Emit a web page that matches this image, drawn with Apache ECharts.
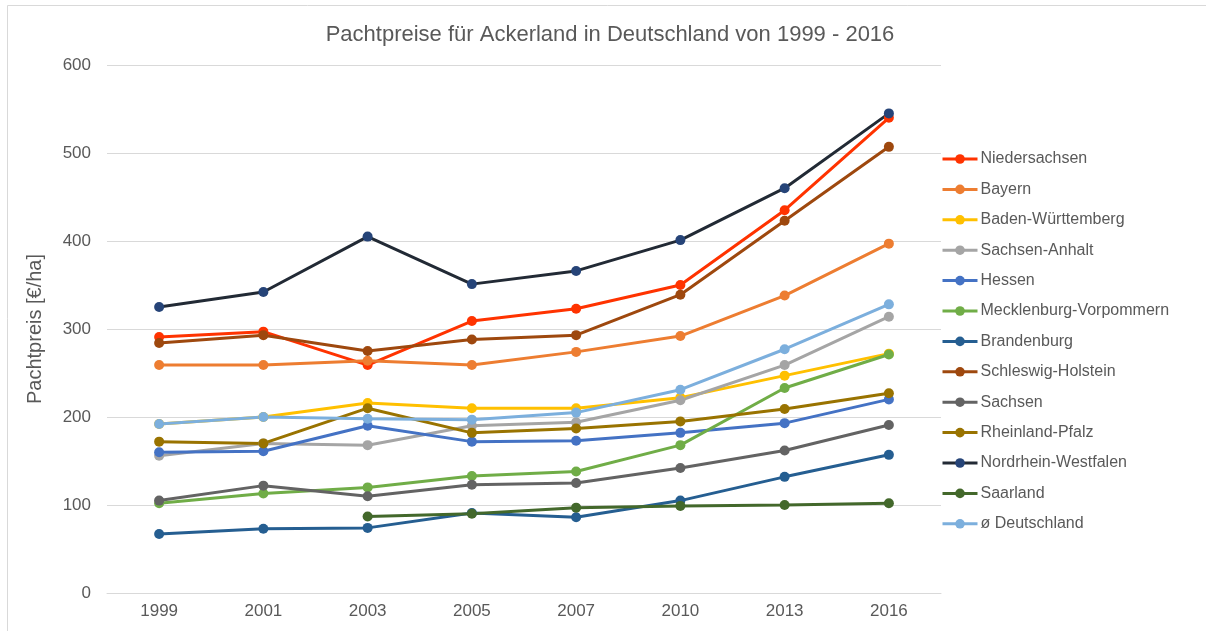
<!DOCTYPE html>
<html>
<head>
<meta charset="utf-8">
<script src="https://cdn.jsdelivr.net/npm/echarts@6/dist/echarts.min.js"></script>
<style>
  html, body { margin: 0; padding: 0; background: #fff; }
  #chart { width: 1206px; height: 631px; }
</style>
</head>
<body>
<div id="chart"></div>
<script>
var years = ['1999', '2001', '2003', '2005', '2007', '2010', '2013', '2016'];

var niedersachsen = [291, 297, 259, 309, 323, 350, 435, 540];
var bayern = [259, 259, 264, 259, 274, 292, 338, 397];
var badenWuerttemberg = [192, 200, 216, 210, 210, 222, 247, 272];
var sachsenAnhalt = [156, 170, 168, 190, 194, 219, 259, 314];
var hessen = [160, 161, 190, 172, 173, 182, 193, 220];
var mecklenburgVorpommern = [102, 113, 120, 133, 138, 168, 233, 271];
var brandenburg = [67, 73, 74, 91, 86, 105, 132, 157];
var schleswigHolstein = [284, 293, 275, 288, 293, 339, 423, 507];
var sachsen = [105, 122, 110, 123, 125, 142, 162, 191];
var rheinlandPfalz = [172, 170, 210, 182, 187, 195, 209, 227];
var nordrheinWestfalen = [325, 342, 405, 351, 366, 401, 460, 545];
var saarland = [null, null, 87, 90, 97, 99, 100, 102];
var deutschland = [192, 200, 198, 197, 205, 231, 277, 328];

var yTicks = [0, 100, 200, 300, 400, 500, 600];

var textColor = '#595959';
var gridColor = '#d9d9d9';

function line(name, data, color, lineColor) {
  return {
    name: name,
    type: 'line',
    data: data,
    symbol: 'circle',
    symbolSize: 10,
    connectNulls: false,
    itemStyle: { color: color },
    lineStyle: { color: lineColor || color, width: 3 },
    emphasis: { disabled: true }
  };
}

var chart = echarts.init(document.getElementById('chart'));

var option = {
  backgroundColor: '#fff',
  animation: false,
  textStyle: { fontFamily: 'Liberation Sans, Arial, sans-serif' },
  title: {
    text: 'Pachtpreise für Ackerland in Deutschland von 1999 - 2016',
    left: 605,
    textAlign: 'center',
    top: 19,
    textStyle: { color: textColor, fontSize: 22, fontWeight: 'normal' }
  },
  graphic: [{
    type: 'rect',
    shape: { x: 7.5, y: 5.5, width: 1300, height: 700 },
    style: { fill: null, stroke: gridColor, lineWidth: 1 },
    silent: true
  }],
  grid: { left: 107, right: 265, top: 65, bottom: 38 },
  legend: {
    orient: 'vertical',
    left: 941,
    top: 151,
    padding: 0,
    itemWidth: 35,
    itemHeight: 12,
    itemGap: 14.4,
    lineStyle: { width: 3 },
    textStyle: { color: textColor, fontSize: 16, padding: [0, 0, 0, -2] },
    data: ['Niedersachsen', 'Bayern', 'Baden-Württemberg', 'Sachsen-Anhalt', 'Hessen',
      'Mecklenburg-Vorpommern', 'Brandenburg', 'Schleswig-Holstein', 'Sachsen',
      'Rheinland-Pfalz', 'Nordrhein-Westfalen', 'Saarland', 'ø Deutschland']
  },
  xAxis: {
    type: 'category',
    data: years,
    boundaryGap: true,
    axisLine: { show: true, lineStyle: { color: gridColor } },
    axisTick: { show: false },
    axisLabel: { color: textColor, fontSize: 17, margin: 10 }
  },
  yAxis: {
    type: 'value',
    min: yTicks[0],
    max: yTicks[yTicks.length - 1],
    interval: 100,
    name: 'Pachtpreis [€/ha]',
    nameLocation: 'middle',
    nameGap: 62,
    nameTextStyle: { color: textColor, fontSize: 20 },
    axisLine: { show: false },
    axisTick: { show: false },
    axisLabel: { color: textColor, fontSize: 17, margin: 16 },
    splitLine: { lineStyle: { color: gridColor, width: 1 } }
  },
  series: [
    line('Niedersachsen', niedersachsen, '#ff3300'),
    line('Bayern', bayern, '#ed7d31'),
    line('Baden-Württemberg', badenWuerttemberg, '#ffc000'),
    line('Sachsen-Anhalt', sachsenAnhalt, '#a5a5a5'),
    line('Hessen', hessen, '#4472c4'),
    line('Mecklenburg-Vorpommern', mecklenburgVorpommern, '#70ad47'),
    line('Brandenburg', brandenburg, '#255e91'),
    line('Schleswig-Holstein', schleswigHolstein, '#9e480e'),
    line('Sachsen', sachsen, '#636363'),
    line('Rheinland-Pfalz', rheinlandPfalz, '#997300'),
    line('Nordrhein-Westfalen', nordrheinWestfalen, '#264478', '#222a35'),
    line('Saarland', saarland, '#43682b'),
    line('ø Deutschland', deutschland, '#7cafdd')
  ]
};

chart.setOption(option);
</script>
</body>
</html>
